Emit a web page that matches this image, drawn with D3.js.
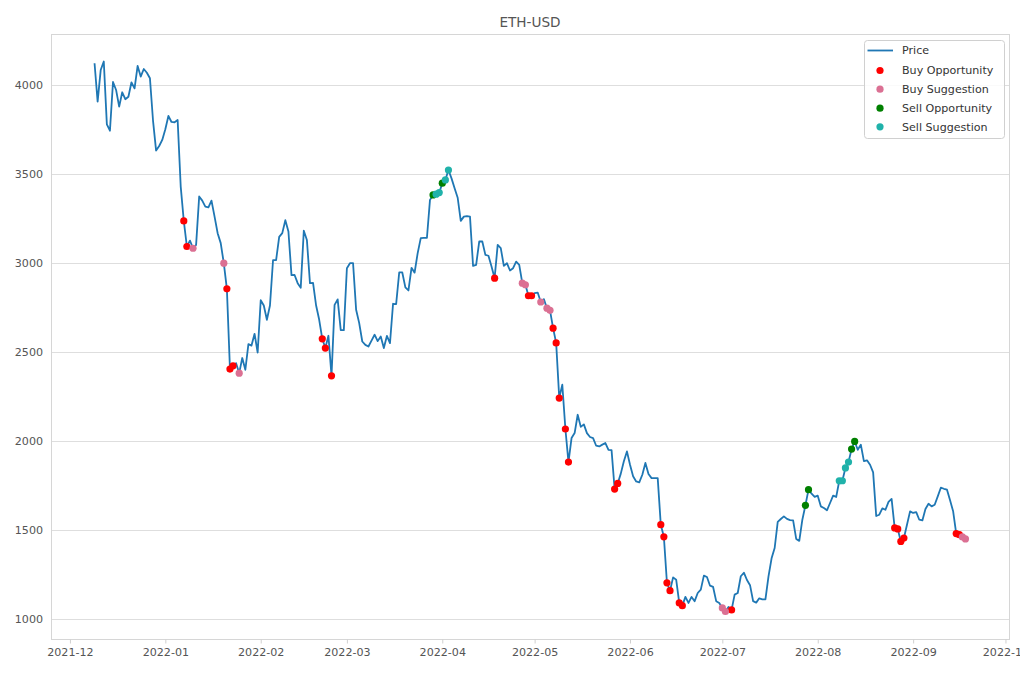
<!DOCTYPE html>
<html>
<head>
<meta charset="utf-8">
<script src="https://cdn.jsdelivr.net/npm/d3@7"></script>
<style>
  html, body { margin: 0; padding: 0; background: #fff; }
  svg { display: block; font-family: "DejaVu Sans", sans-serif; }
</style>
</head>
<body>
<svg id="chart" width="1020" height="680"></svg>
<script>
// ---- data (daily closes) ----
const startDate = "2021-12-09";
const pricesDec = [4122,3906,4084,4132,3779,3743,4017,3972,3878,3959,3920,3934,4015,3981,4107,4047,4090,4069,4038,3800,3631,3657,3691];
const pricesJan = [3751,3826,3792,3790,3803,3429,3236,3092,3125,3082,3101,3373,3350,3316,3312,3350,3260,3167,3111,2998,2854,2403,2421,2436,2380,2465,2399,2543,2535,2601,2496];
const pricesFeb = [2790,2760,2680,2760,3015,3016,3146,3167,3240,3176,2931,2932,2886,2860,3181,3129,2886,2887,2760,2680,2573,2521,2590,2365,2764,2795,2622,2622];
const pricesMar = [2970,2998,2999,2736,2661,2558,2539,2530,2563,2596,2560,2586,2521,2589,2549,2770,2768,2946,2946,2862,2845,2972,2945,3055,3139,3141,3140,3354,3382,3386,3395];
const pricesApr = [3448,3466,3522,3475,3420,3366,3236,3260,3263,3260,2983,2989,3120,3120,3045,3040,2979,2914,3101,3083,2983,2998,2957,2970,3007,2989,2886,2877,2815,2815];
const pricesMay = [2830,2833,2780,2796,2745,2733,2633,2550,2240,2315,2066,1880,2015,2043,2146,2078,2092,2043,2021,2015,1972,1968,1978,1987,1949,1947,1728,1760,1815,1885,1940];
const pricesJun = [1865,1800,1771,1766,1809,1875,1813,1790,1790,1790,1528,1460,1201,1157,1232,1219,1088,1073,1122,1088,1122,1098,1144,1163,1242,1234,1185,1178,1098,1088];
const pricesJul = [1060,1040,1066,1049,1135,1144,1238,1258,1217,1188,1098,1090,1114,1108,1108,1238,1339,1397,1544,1560,1575,1561,1554,1552,1448,1437,1556,1637,1725,1702,1684];
const pricesAug = [1691,1631,1622,1609,1650,1691,1684,1775,1775,1847,1880,1953,1996,1949,1978,1885,1890,1865,1822,1577,1584,1620,1612,1656,1673,1510,1504,1434,1453,1528,1603];
const pricesSep = [1594,1599,1556,1552,1616,1646,1631,1640,1687,1736,1730,1725,1665,1603,1478,1472,1459,1448];

const buyOpportunity = ["2022-01-07","2022-01-08","2022-01-21","2022-01-22","2022-01-23","2022-02-21","2022-02-22","2022-02-24",
  "2022-04-18","2022-04-29","2022-04-30","2022-05-07","2022-05-08","2022-05-09","2022-05-11","2022-05-12","2022-05-27","2022-05-28",
  "2022-06-11","2022-06-12","2022-06-13","2022-06-14","2022-06-17","2022-06-18","2022-07-04","2022-08-26","2022-08-27","2022-08-28",
  "2022-08-29","2022-09-15","2022-09-16"];
const buySuggestion = ["2022-01-10","2022-01-20","2022-01-25","2022-04-27","2022-04-28","2022-05-03","2022-05-05","2022-05-06",
  "2022-07-01","2022-07-02","2022-09-17","2022-09-18"];
const sellOpportunity = ["2022-03-29","2022-04-01","2022-07-28","2022-07-29","2022-08-12","2022-08-13"];
const sellSuggestion = ["2022-03-30","2022-03-31","2022-04-02","2022-04-03","2022-08-08","2022-08-09","2022-08-10","2022-08-11"];

const yTicks = [1000, 1500, 2000, 2500, 3000, 3500, 4000];
const title = "ETH-USD";
const legendLabels = ["Price", "Buy Opportunity", "Buy Suggestion", "Sell Opportunity", "Sell Suggestion"];

// ---- build ----
(function () {
const prices = [].concat(pricesDec, pricesJan, pricesFeb, pricesMar, pricesApr, pricesMay, pricesJun, pricesJul, pricesAug, pricesSep);
const parse = d3.utcParse("%Y-%m-%d");
const fmt = d3.utcFormat("%Y-%m-%d");
const t0 = parse(startDate);
const series = prices.map((v, i) => ({ date: d3.utcDay.offset(t0, i), value: v }));
const byDate = new Map(series.map(d => [fmt(d.date), d]));

const mL = 51, mR = 1009, mT = 34, mB = 639;
const svg = d3.select("#chart");

const dExt = d3.extent(series, d => d.date);
const dSpan = dExt[1] - dExt[0];
const x = d3.scaleUtc()
  .domain([new Date(+dExt[0] - 0.05 * dSpan), new Date(+dExt[1] + 0.05 * dSpan)])
  .range([mL, mR]);
const vExt = d3.extent(prices);
const vSpan = vExt[1] - vExt[0];
const y = d3.scaleLinear()
  .domain([vExt[0] - 0.05 * vSpan, vExt[1] + 0.05 * vSpan])
  .range([mB, mT]);

// grid
svg.append("g").selectAll("line").data(yTicks).join("line")
  .attr("x1", mL).attr("x2", mR)
  .attr("y1", d => Math.round(y(d)) + 0.5).attr("y2", d => Math.round(y(d)) + 0.5)
  .attr("stroke", "#dedede").attr("stroke-width", 1);

// frame
svg.append("rect").attr("x", mL + 0.5).attr("y", mT + 0.5)
  .attr("width", mR - mL).attr("height", mB - mT)
  .attr("fill", "none").attr("stroke", "#d6d6d6").attr("stroke-width", 1);

// x axis
const xAxis = d3.axisBottom(x).ticks(d3.utcMonth.every(1)).tickFormat(d3.utcFormat("%Y-%m")).tickSize(4).tickPadding(5);
const gx = svg.append("g").attr("transform", `translate(0,${mB + 0.5})`).call(xAxis);
gx.select(".domain").remove();
gx.selectAll(".tick line").attr("stroke", "#d0d0d0");
gx.selectAll(".tick text").attr("fill", "#555").attr("font-size", 11.1).attr("font-family", "DejaVu Sans");

// y axis
const yAxis = d3.axisLeft(y).tickValues(yTicks).tickFormat(d3.format("d")).tickSize(0).tickPadding(8);
const gy = svg.append("g").attr("transform", `translate(${mL},0)`).call(yAxis);
gy.select(".domain").remove();
gy.selectAll(".tick text").attr("fill", "#555").attr("font-size", 11.1).attr("font-family", "DejaVu Sans");

// title
svg.append("text").attr("x", (mL + mR) / 2).attr("y", 27)
  .attr("text-anchor", "middle").attr("fill", "#555")
  .attr("font-size", 13.6).text(title);

// price line
const line = d3.line().x(d => x(d.date)).y(d => y(d.value));
svg.append("path").datum(series)
  .attr("d", line).attr("fill", "none")
  .attr("stroke", "#1f77b4").attr("stroke-width", 1.8).attr("stroke-linejoin", "round");

// markers
const markerSets = [
  { dates: buyOpportunity, color: "#ff0000" },
  { dates: buySuggestion, color: "#db7093" },
  { dates: sellOpportunity, color: "#008000" },
  { dates: sellSuggestion, color: "#20b2aa" }
];
markerSets.forEach(s => {
  const pts = s.dates.map(d => byDate.get(d)).filter(Boolean);
  svg.append("g").selectAll("circle").data(pts).join("circle")
    .attr("cx", d => x(d.date)).attr("cy", d => y(d.value))
    .attr("r", 3.6).attr("fill", s.color);
});

// legend
const lg = svg.append("g").attr("transform", "translate(864.5,40.5)");
lg.append("rect").attr("width", 140).attr("height", 98).attr("rx", 3)
  .attr("fill", "#fff").attr("fill-opacity", 0.85).attr("stroke", "#d0d0d0");
const rowY = [10, 30, 48.7, 67.7, 86.3];
lg.append("line").attr("x1", 3).attr("x2", 28.5).attr("y1", rowY[0]).attr("y2", rowY[0])
  .attr("stroke", "#1f77b4").attr("stroke-width", 1.8);
markerSets.forEach((s, i) => {
  lg.append("circle").attr("cx", 15.5).attr("cy", rowY[i + 1]).attr("r", 3.6).attr("fill", s.color);
});
legendLabels.forEach((t, i) => {
  lg.append("text").attr("x", 37.5).attr("y", rowY[i]).attr("dy", "0.35em")
    .attr("fill", "#333").attr("font-size", 11.1).text(t);
});
})();
</script>
</body>
</html>
